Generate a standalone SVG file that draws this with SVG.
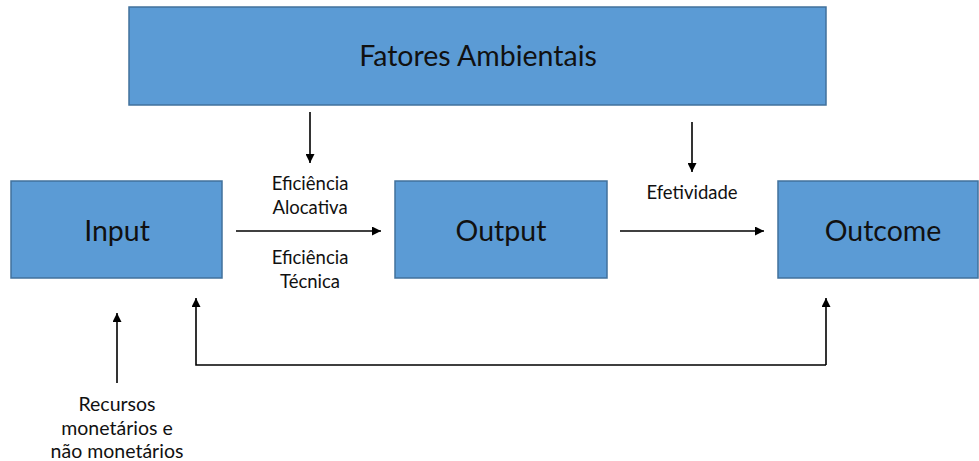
<svg xmlns="http://www.w3.org/2000/svg" width="979" height="461" viewBox="0 0 979 461">
<style>
.box{fill:#5B9BD5;stroke:#41719C;stroke-width:1.5}
.big{font-family:Lato,"Open Sans","Liberation Sans",sans-serif;font-size:28.5px;fill:#111;text-anchor:middle}
.lbl{font-family:Lato,"Open Sans","Liberation Sans",sans-serif;font-size:18.5px;fill:#111;text-anchor:middle}
.lbl2{font-family:Lato,"Open Sans","Liberation Sans",sans-serif;font-size:19.5px;fill:#111;text-anchor:middle}
.ln{stroke:#000;stroke-width:1.6;fill:none}
</style>
<defs>
<marker id="ah" viewBox="0 0 10 10" refX="10" refY="5" markerWidth="9" markerHeight="9" markerUnits="userSpaceOnUse" orient="auto">
<path d="M0,0 L10,5 L0,10 z" fill="#000"/>
</marker>
</defs>
<rect width="979" height="461" fill="#fff"/>
<g id="fatores"><rect class="box" x="129" y="7" width="697" height="98"/><text class="big" x="478" y="66">Fatores Ambientais</text></g>
<g id="input"><rect class="box" x="11" y="181" width="211" height="97"/><text class="big" x="117" y="241">Input</text></g>
<g id="output"><rect class="box" x="395" y="181" width="212" height="97"/><text class="big" x="501" y="241">Output</text></g>
<g id="outcome"><rect class="box" x="778" y="181" width="200" height="97"/><text class="big" x="883" y="241">Outcome</text></g>
<g id="connectors">
<line class="ln" x1="236" y1="231" x2="381" y2="231" marker-end="url(#ah)"/>
<line class="ln" x1="620" y1="231" x2="764" y2="231" marker-end="url(#ah)"/>
<line class="ln" x1="310" y1="112" x2="310" y2="163" marker-end="url(#ah)"/>
<line class="ln" x1="692" y1="122" x2="692" y2="172" marker-end="url(#ah)"/>
<line class="ln" x1="117" y1="383" x2="117" y2="313" marker-end="url(#ah)"/>
<polyline class="ln" points="826,365 196,365 196,298" marker-end="url(#ah)"/>
<line class="ln" x1="826" y1="365" x2="826" y2="298" marker-end="url(#ah)"/>
</g>
<g id="labels">
<text class="lbl" x="310" y="190">Eficiência</text>
<text class="lbl" x="310" y="214">Alocativa</text>
<text class="lbl" x="310" y="264">Eficiência</text>
<text class="lbl" x="310" y="288">Técnica</text>
<text class="lbl" x="692" y="199">Efetividade</text>
<text class="lbl2" x="117" y="411">Recursos</text>
<text class="lbl2" x="117" y="435">monetários e</text>
<text class="lbl2" x="117" y="458">não monetários</text>
</g>
</svg>
